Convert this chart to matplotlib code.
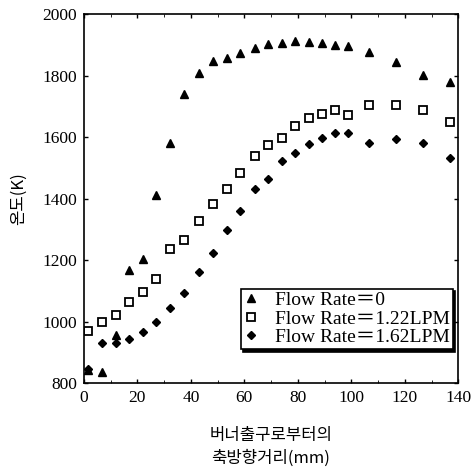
import matplotlib.pyplot as plt

# axial distance from burner exit (mm)
x_dist = [1.5, 6.8, 11.9, 17, 22.1, 27, 32.2, 37.4, 43, 48.3, 53.4, 58.4,
          64, 68.9, 74.2, 79.1, 84.1, 89, 94, 98.9, 106.5, 116.8, 126.7, 136.8]

# temperature (K) for each flow rate
temp_0 = [842, 837, 958, 1167, 1205, 1411, 1580, 1742, 1809, 1847, 1859, 1875,
          1890, 1902, 1907, 1912, 1910, 1905, 1901, 1897, 1877, 1845, 1802, 1780]
temp_122 = [969, 999, 1023, 1064, 1097, 1140, 1235, 1267, 1328, 1382, 1433, 1482,
            1538, 1576, 1596, 1637, 1661, 1675, 1688, 1672, 1704, 1704, 1688, 1648]
temp_162 = [845, 931, 932, 942, 965, 998, 1043, 1094, 1162, 1222, 1298, 1360,
            1433, 1463, 1523, 1549, 1577, 1598, 1612, 1615, 1581, 1593, 1580, 1533]

labels = ["Flow Rate＝0", "Flow Rate＝1.22LPM", "Flow Rate＝1.62LPM"]

serif = "Liberation Serif"
korean = ["Noto Sans CJK KR", "DejaVu Sans"]

fig = plt.figure(figsize=(4.71, 4.73), dpi=100)
ax = fig.add_axes([0.178, 0.19, 0.795, 0.78])

ax.plot(x_dist, temp_0, "^", color="black", markersize=6, label=labels[0])
ax.plot(x_dist, temp_122, "s", color="black", markerfacecolor="white",
        markeredgewidth=1.3, markersize=5.5, label=labels[1])
ax.plot(x_dist, temp_162, "D", color="black", markersize=4.2, label=labels[2])

ax.set_xlim(0, 140)
ax.set_ylim(800, 2000)
ax.set_xticks(range(0, 141, 20))
ax.set_xticks(range(10, 140, 20), minor=True)
ax.set_yticks(range(800, 2001, 200))

ax.tick_params(direction="in", top=True, right=True, length=3, width=1,
               labelsize=12.5, pad=5)
ax.tick_params(which="minor", direction="in", top=True, length=2)
for lab in ax.get_xticklabels() + ax.get_yticklabels():
    lab.set_fontfamily(serif)
for sp in ax.spines.values():
    sp.set_linewidth(1.2)

# korean axis labels
ax.set_ylabel("온도(K)", family=korean, fontsize=12, labelpad=11)
ax.set_xlabel("버너출구로부터의\n축방향거리(mm)", family=korean, fontsize=12,
              labelpad=15, linespacing=1.4)

leg = ax.legend(loc="lower right", bbox_to_anchor=(0.985, 0.092),
                prop={"family": [serif, "Noto Sans CJK KR"], "size": 14},
                fancybox=False, shadow={"color": "black", "alpha": 1},
                framealpha=1, edgecolor="black", handletextpad=0.8,
                handlelength=0.8, borderpad=0.15, labelspacing=0.05,
                borderaxespad=0)
leg.get_frame().set_linewidth(1.2)

plt.savefig("out.png", dpi=100)
